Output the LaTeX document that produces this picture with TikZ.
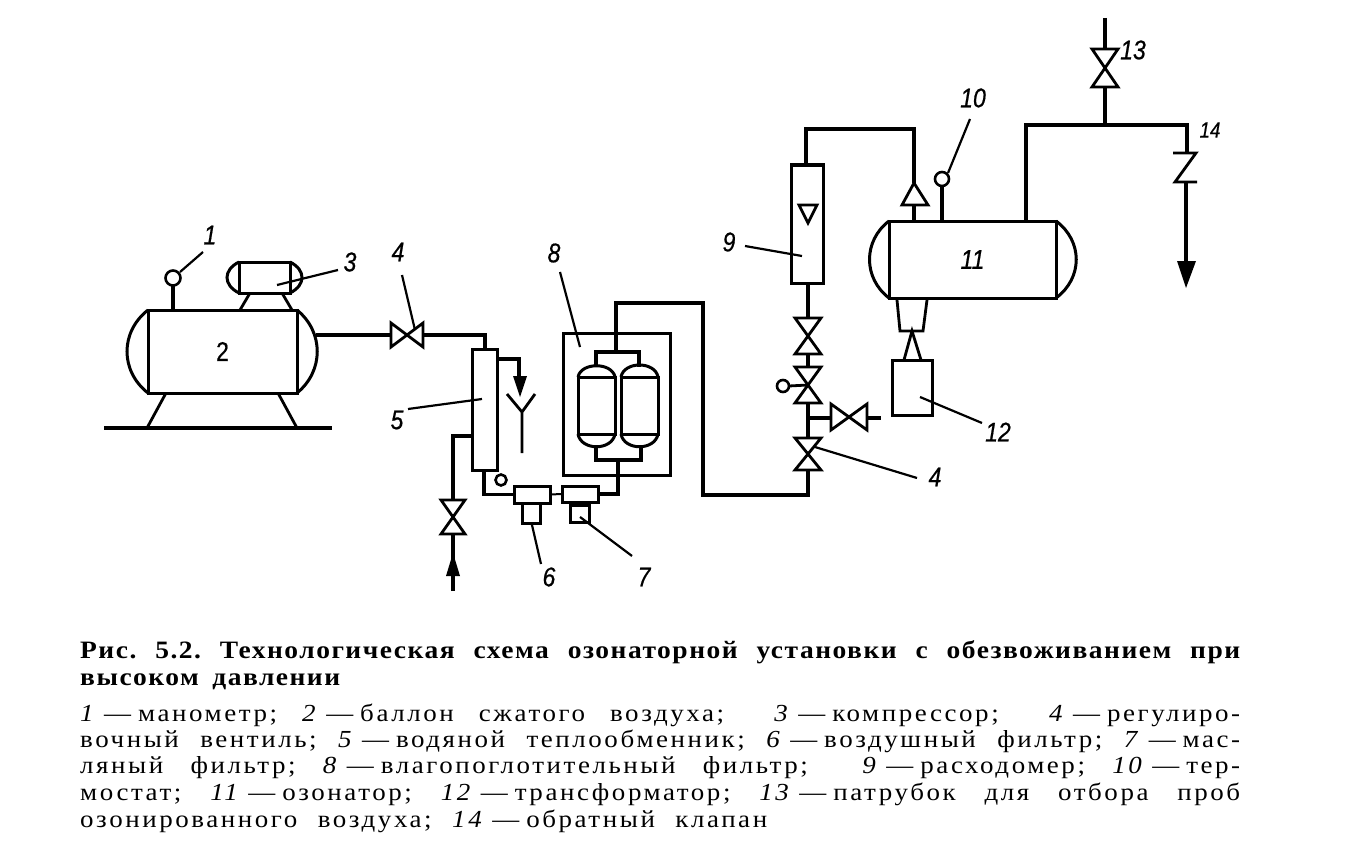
\documentclass[tikz,border=0pt]{standalone}
\usepackage{fontspec}
\setmainfont{Liberation Serif}
\newfontfamily\capf[LetterSpace=6,FakeStretch=1.1]{Liberation Serif}
\newfontfamily\bodyf[LetterSpace=10.5,FakeStretch=1.1]{Liberation Serif}
\newfontfamily\numf[FakeStretch=0.85,FakeBold=0.6]{Liberation Sans}
\newcommand\capsize{\fontsize{25}{24}\selectfont}
\newcommand\bodysize{\fontsize{24.5}{24}\selectfont}
\newcommand\dd{\hspace{8pt}—\hspace{7pt}}
\tikzset{
  pipe/.style={line width=3.4pt,line join=miter},
  shell/.style={draw,line width=3pt,rectangle,inner sep=0pt,outer sep=0pt},
  dome/.style={line width=3pt},
  fitting/.style={line width=2.8pt,line join=miter},
  lead/.style={line width=2.2pt},
  gauge/.style={draw,circle,line width=2.6pt,inner sep=0pt,outer sep=0pt},
  numlab/.style={inner sep=0pt,font=\numf\itshape\fontsize{27}{27}\selectfont},
  capline/.style={anchor=base west,inner sep=0pt,font=\capf\bfseries\capsize\frenchspacing},
  bodyline/.style={anchor=base west,inner sep=0pt,font=\bodyf\bodysize\frenchspacing},
}
\newcommand\apparatus[6]{%
  \pgfmathsetmacro\wdA{#4-#2}\pgfmathsetmacro\htA{#5-#3}%
  \pgfmathsetmacro\cxA{(#2+#4)/2}\pgfmathsetmacro\cyA{(#3+#5)/2}%
  \node[shell,minimum width=\wdA pt,minimum height=\htA pt] (#1) at (\cxA,\cyA) {#6};}
% valve, vertical flow: name, cx, cy, half width, half height
\newcommand\vvalve[5]{%
  \pgfmathsetmacro\wdA{2*#4}\pgfmathsetmacro\htA{2*#5}%
  \node[inner sep=0pt,outer sep=0pt,minimum width=\wdA pt,minimum height=\htA pt] (#1) at (#2,#3) {};
  \draw[fitting] (#1.north west) -- (#1.north east) -- (#1.south west) -- (#1.south east) -- cycle;}
% valve, horizontal flow
\newcommand\hvalve[5]{%
  \pgfmathsetmacro\wdA{2*#4}\pgfmathsetmacro\htA{2*#5}%
  \node[inner sep=0pt,outer sep=0pt,minimum width=\wdA pt,minimum height=\htA pt] (#1) at (#2,#3) {};
  \draw[fitting] (#1.north west) -- (#1.south west) -- (#1.north east) -- (#1.south east) -- cycle;}
\newcommand\leader[5]{%
  \coordinate (#1-a) at (#2,#3); \coordinate (#1-b) at (#4,#5);
  \draw[lead] (#1-a) -- (#1-b);}
\begin{document}
\begin{tikzpicture}[x=1pt,y=-1pt]
\useasboundingbox (0,0) rectangle (1352,848);

% --- air tank 2 with base
\apparatus{tank}{148}{310}{297}{393}{\numf\fontsize{27}{27}\selectfont 2}
\draw[dome] (tank.north west) .. controls +(-28,22) and +(-28,-22) .. (tank.south west);
\draw[dome] (tank.north east) .. controls +(27,22) and +(27,-22) .. (tank.south east);
\coordinate (baseL) at (104,428); \coordinate (baseR) at (332,428);
\draw[line width=3.8pt] (baseL) -- (baseR);
\coordinate (legA) at (166,393); \coordinate (legAb) at (147,428);
\coordinate (legB) at (278,393); \coordinate (legBb) at (297,428);
\draw[line width=2.8pt] (legA) -- (legAb) (legB) -- (legBb);

% --- gauge 1
\node[gauge,minimum size=15pt] (g1) at (173,278) {};
\draw[pipe] (g1.south) -- (g1.south |- tank.north);
\leader{l1}{180}{272}{203}{252}
\node[numlab] (n1) at (210,235) {1};

% --- compressor 3
\apparatus{comp}{239}{262}{290}{293}{}
\draw[dome] (comp.north west) .. controls +(-16,8) and +(-16,-8) .. (comp.south west);
\draw[dome] (comp.north east) .. controls +(16,8) and +(16,-8) .. (comp.south east);
\coordinate (cl1) at (250,293); \coordinate (cl2) at (240,310);
\coordinate (cr1) at (282,293); \coordinate (cr2) at (292,310);
\draw[line width=2.8pt] (cl1) -- (cl2) (cr1) -- (cr2);
\leader{l3}{277}{285}{338}{270}
\node[numlab] (n3) at (350,262) {3};

% --- valve 4 (left)
\hvalve{va}{407}{335}{16}{12}
\coordinate (tankout) at (316,335);
\draw[pipe] (tankout) -- (va.west);
\leader{l4}{402}{275}{415}{330}
\node[numlab] (n4) at (398,252) {4};

% --- exchanger 5
\apparatus{hx}{472}{349}{497}{470}{}
\draw[pipe] (va.east) -| (485,349);
\leader{l5}{408}{409}{482}{399}
\node[numlab] (n5) at (397,420) {5};
\coordinate (hxout) at (497,359); \coordinate (drain) at (519,359);
\coordinate (drainTip) at (520,397);
\draw[pipe] (hxout) -- (drain) -- (519,378);
\fill (513,376) -- (527,376) -- (drainTip) -- cycle;
% funnel
\coordinate (fA) at (507,394); \coordinate (fB) at (522,412); \coordinate (fC) at (535,394); \coordinate (fD) at (522,453);
\draw[line width=2.8pt] (fA) -- (fB) -- (fC) (fB) -- (fD);
% inlet valve
\vvalve{vw}{453}{517}{12}{17}
\coordinate (hxin) at (472,436);
\draw[pipe] (hxin) -| (vw.north);
\coordinate (inlet) at (453,591);
\draw[pipe] (inlet) -- (vw.south);
\fill (453,553) -- (460,576) -- (446,576) -- cycle;
\node[gauge,minimum size=11pt] (o5) at (501,480) {};

% --- filters 6 and 7
\apparatus{fa}{514}{486}{550}{503}{}
\apparatus{fab}{522}{503}{540}{523}{}
\apparatus{fb}{562}{486}{598}{502}{}
\apparatus{fbb}{570}{505}{589}{522}{}
\draw[pipe] (484,470) |- (fa.west);
\draw[line width=2pt] (fa.east) -- (fb.west);
\leader{l6}{532}{525}{541}{564}
\node[numlab] (n6) at (549,577) {6};
\leader{l7}{580}{517}{632}{556}
\node[numlab] (n7) at (644,577) {7};

% --- filter 8
\apparatus{box8}{563}{333}{670}{475}{}
\apparatus{ves1}{578}{377}{615}{434}{}
\apparatus{ves2}{621}{377}{658}{434}{}
\draw[dome] (ves1.north west) .. controls (581,362) and (612,362) .. (ves1.north east);
\draw[dome] (ves1.south west) .. controls (581,451) and (612,451) .. (ves1.south east);
\draw[dome] (ves2.north west) .. controls (624,361) and (655,361) .. (ves2.north east);
\draw[dome] (ves2.south west) .. controls (624,451) and (655,451) .. (ves2.south east);
\coordinate (t1) at (596,367); \coordinate (t2) at (639,367);
\coordinate (b1) at (596,447); \coordinate (b2) at (641,447);
\draw[pipe] (t1) |- (618,352) -| (t2);
\draw[pipe] (b1) |- (618,460) -| (b2);
\draw[pipe] (618,460) |- (fb.east);
\leader{l8}{560}{272}{580}{347}
\node[numlab] (n8) at (554,253) {8};

% --- flow meter 9 and valves
\vvalve{vd}{808}{454}{13}{16}
\coordinate (ptop) at (616,352);
\coordinate (pTL) at (616,303); \coordinate (pTR) at (703,303); \coordinate (pBL) at (703,495);
\draw[pipe] (ptop) -- (pTL) -- (pTR) -- (pBL) -| (vd.south);
\leader{l4b}{815}{447}{917}{478}
\node[numlab] (n4b) at (935,477) {4};
\vvalve{vc}{808}{385}{13}{18}
\vvalve{vb}{808}{336}{13}{18}
\draw[pipe] (vc.south) -- (vd.north);
\draw[pipe] (vb.south) -- (vc.north);
\node[gauge,minimum size=12pt] (hand) at (783,386) {};
\draw[line width=2.8pt] (hand.east) -- (vc.center);
\hvalve{ve}{849}{417}{18}{13}
\coordinate (tee) at (808,418); \coordinate (stub) at (881,418);
\draw[pipe] (tee) -- (ve.west |- tee) (ve.east |- tee) -- (stub);
\apparatus{fm}{791}{165}{823}{283}{}
\draw[pipe] (fm.south -| vb.north) -- (vb.north);
\coordinate (fl1) at (799,205); \coordinate (fl2) at (817,205); \coordinate (fl3) at (808,223);
\draw[fitting] (fl1) -- (fl2) -- (fl3) -- cycle;
\leader{l9}{745}{246}{802}{256}
\node[numlab] (n9) at (729,242) {9};

% --- ozonator 11
\apparatus{oz}{889}{221}{1056}{298}{\numf\itshape\fontsize{27}{27}\selectfont 11}
\draw[dome] (oz.north west) .. controls +(-26,20) and +(-26,-20) .. (oz.south west);
\draw[dome] (oz.north east) .. controls +(27,20) and +(27,-20) .. (oz.south east);
\coordinate (chk1) at (914,183); \coordinate (chk2) at (928,205); \coordinate (chk3) at (902,205);
\draw[fitting] (chk1) -- (chk2) -- (chk3) -- cycle;
\coordinate (chkb) at (914,205); \coordinate (ozin) at (914,221); \coordinate (topL) at (806,129);
\draw[pipe] (ozin) -- (chkb);
\draw[pipe] (chk1) |- (topL) -- (806,165);
% thermostat 10
\node[gauge,minimum size=14pt] (th) at (942,179) {};
\draw[pipe] (th.south) -- (th.south |- oz.north);
\leader{l10}{948}{173}{970}{119}
\node[numlab] (n10) at (973,98) {10};
% transformer 12
\coordinate (tr1) at (897,300); \coordinate (tr2) at (927,300); \coordinate (tr3) at (923,331); \coordinate (tr4) at (900,331);
\draw[fitting] (tr1) -- (tr4) -- (tr3) -- (tr2);
\apparatus{tf}{892}{360}{932}{415}{}
\coordinate (ap) at (912,331); \coordinate (apL) at (904,360); \coordinate (apR) at (921,360);
\draw[fitting] (apL) -- (ap) -- (apR);
\leader{l12}{920}{397}{982}{423}
\node[numlab] (n12) at (998,432) {12};

% --- outlet, valve 13, check valve 14
\vvalve{vt}{1105}{68}{13}{19}
\coordinate (vtop) at (1105,18); \coordinate (vjun) at (1105,125);
\coordinate (oL) at (1026,125); \coordinate (oR) at (1187,125);
\draw[pipe] (vtop) -- (vt.north);
\draw[pipe] (vt.south) -- (vjun);
\coordinate (ozout) at (1026,221);
\draw[pipe] (ozout) -- (oL) -- (oR) -- (1187,152);
\coordinate (zA) at (1173,153); \coordinate (zB) at (1196,153); \coordinate (zC) at (1175,182); \coordinate (zD) at (1197,182);
\draw[fitting] (zA) -- (zB) -- (zC) -- (zD);
\coordinate (zO) at (1186,182); \coordinate (zT) at (1186,264);
\draw[pipe] (zO) -- (zT);
\fill (1177,261) -- (1196,261) -- (1186,288) -- cycle;
\node[numlab] (n13) at (1133,50) {13};
\node[numlab,font=\numf\itshape\fontsize{22}{22}\selectfont] (n14) at (1210,130) {14};

% --- caption
\node[capline] (c1) at (80,658) {\makebox[1160pt][s]{Рис. 5.2. Технологическая схема озонаторной установки с обезвоживанием при}};
\node[capline] (c2) at (80,685) {\makebox[260pt][s]{высоком давлении}};
\node[bodyline] (b1t) at (80,721) {\makebox[1160pt][s]{\textit{1}\dd манометр; \textit{2}\dd баллон сжатого воздуха;\ \ \textit{3}\dd компрессор;\ \ \textit{4}\dd регулиро-}};
\node[bodyline] (b2t) at (80,747) {\makebox[1160pt][s]{вочный вентиль; \textit{5}\dd водяной теплообменник; \textit{6}\dd воздушный фильтр; \textit{7}\dd мас-}};
\node[bodyline] (b3t) at (80,773) {\makebox[1160pt][s]{ляный фильтр; \textit{8}\dd влагопоглотительный фильтр;\ \ \textit{9}\dd расходомер; \textit{10}\dd тер-}};
\node[bodyline] (b4t) at (80,800) {\makebox[1160pt][s]{мостат; \textit{11}\dd озонатор; \textit{12}\dd трансформатор; \textit{13}\dd патрубок для отбора проб}};
\node[bodyline] (b5t) at (80,827) {\makebox[687pt][s]{озонированного воздуха; \textit{14}\dd обратный клапан}};
\end{tikzpicture}
\end{document}
